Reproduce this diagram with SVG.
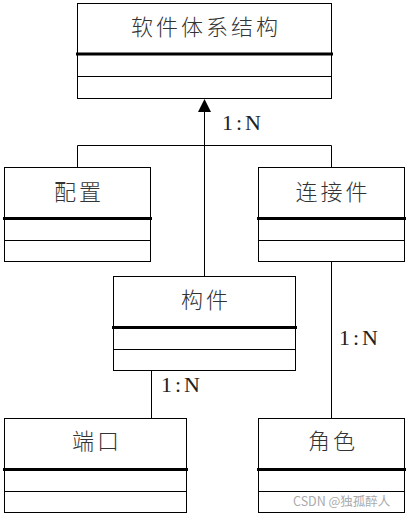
<svg xmlns="http://www.w3.org/2000/svg" width="408" height="516" viewBox="0 0 408 516">
<style>
.box{fill:#fff;stroke:#000;stroke-width:1}
.thick{stroke:#000;stroke-width:3}
.thin{stroke:#000;stroke-width:1}
.t{font-family:"Noto Sans CJK SC","Noto Sans",sans-serif;font-size:22px;font-weight:300;fill:#333;text-anchor:middle;letter-spacing:3px}
.lbl{font-family:"Liberation Serif",serif;font-size:22px;fill:#222;letter-spacing:3px}
.wm{font-family:"Noto Sans CJK SC","Noto Sans",sans-serif;font-size:12.5px;fill:#aaa}
.conn{stroke:#000;stroke-width:1;fill:none}
</style>
<rect width="408" height="516" fill="#fff"/>
<g id="connectors">
<path class="conn" d="M204.5 110V276.5M77.5 167V145.5H331.5V167M331.5 262V418M151.5 371V418"/>
<polygon points="204.5,99 198,112 211,112" fill="#000"/>
<text class="lbl" x="222" y="130">1:N</text>
<text class="lbl" x="339" y="345">1:N</text>
<text class="lbl" x="161" y="392">1:N</text>
</g>
<g id="n_top">
<rect class="box" x="77.5" y="3.5" width="254" height="95"/>
<line class="thick" x1="76" y1="54" x2="333" y2="54"/>
<line class="thin" x1="77.5" y1="76.5" x2="331.5" y2="76.5"/>
<text class="t" x="206" y="35">软件体系结构</text>
</g>
<g id="n_peizhi">
<rect class="box" x="4.5" y="167.5" width="146" height="94"/>
<line class="thick" x1="3" y1="218.5" x2="152" y2="218.5"/>
<line class="thin" x1="4.5" y1="240.5" x2="150.5" y2="240.5"/>
<text class="t" x="79" y="199.5">配置</text>
</g>
<g id="n_lianjiejian">
<rect class="box" x="258.5" y="167.5" width="146" height="94"/>
<line class="thick" x1="257" y1="218.5" x2="406" y2="218.5"/>
<line class="thin" x1="258.5" y1="240.5" x2="404.5" y2="240.5"/>
<text class="t" x="333" y="199.5">连接件</text>
</g>
<g id="n_goujian">
<rect class="box" x="113.5" y="276.5" width="182" height="94"/>
<line class="thick" x1="112" y1="327.5" x2="297" y2="327.5"/>
<line class="thin" x1="113.5" y1="349.5" x2="295.5" y2="349.5"/>
<text class="t" x="206" y="308">构件</text>
</g>
<g id="n_duankou">
<rect class="box" x="4.5" y="418.5" width="182" height="94"/>
<line class="thick" x1="3" y1="469.5" x2="188" y2="469.5"/>
<line class="thin" x1="4.5" y1="491.5" x2="186.5" y2="491.5"/>
<text class="t" x="97" y="449">端口</text>
</g>
<g id="n_juese">
<rect class="box" x="258.5" y="418.5" width="146" height="94"/>
<line class="thick" x1="257" y1="469.5" x2="406" y2="469.5"/>
<line class="thin" x1="258.5" y1="491.5" x2="404.5" y2="491.5"/>
<text class="t" x="333" y="449">角色</text>
</g>
<text class="wm" x="293" y="506">CSDN @独孤醉人</text>
</svg>
